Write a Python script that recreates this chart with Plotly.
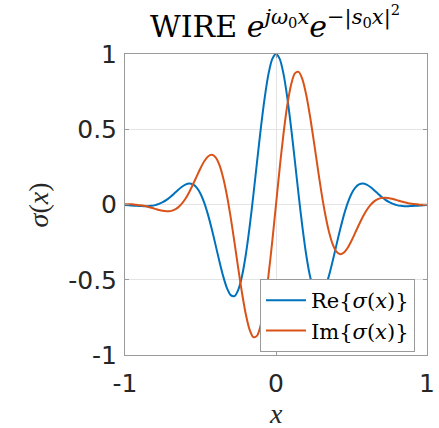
import plotly.graph_objects as go

# sample positions along x
x_vals = [
    -1.0, -0.975, -0.95, -0.925, -0.9, -0.875, -0.85, -0.825, -0.8, -0.775,
    -0.75, -0.725, -0.7, -0.675, -0.65, -0.625, -0.6, -0.575, -0.55, -0.525,
    -0.5, -0.475, -0.45, -0.425, -0.4, -0.375, -0.35, -0.325, -0.3, -0.275,
    -0.25, -0.225, -0.2, -0.175, -0.15, -0.125, -0.1, -0.075, -0.05, -0.025,
    0.0,
    0.025, 0.05, 0.075, 0.1, 0.125, 0.15, 0.175, 0.2, 0.225, 0.25,
    0.275, 0.3, 0.325, 0.35, 0.375, 0.4, 0.425, 0.45, 0.475, 0.5,
    0.525, 0.55, 0.575, 0.6, 0.625, 0.65, 0.675, 0.7, 0.725, 0.75,
    0.775, 0.8, 0.825, 0.85, 0.875, 0.9, 0.925, 0.95, 0.975, 1.0,
]

# real part of the wavelet
re_vals = [
    -0.003, -0.005, -0.007, -0.009, -0.010, -0.011, -0.011, -0.009, -0.004, 0.004,
    0.016, 0.031, 0.050, 0.072, 0.095, 0.116, 0.132, 0.139, 0.133, 0.112,
    0.071, 0.011, -0.069, -0.165, -0.270, -0.377, -0.476, -0.555, -0.602, -0.609,
    -0.567, -0.475, -0.334, -0.151, 0.062, 0.289, 0.511, 0.709, 0.866, 0.966,
    1.000,
    0.966, 0.866, 0.709, 0.511, 0.289, 0.062, -0.151, -0.334, -0.475, -0.567,
    -0.609, -0.602, -0.555, -0.476, -0.377, -0.270, -0.165, -0.069, 0.011, 0.071,
    0.112, 0.133, 0.139, 0.132, 0.116, 0.095, 0.072, 0.050, 0.031, 0.016,
    0.004, -0.004, -0.009, -0.011, -0.011, -0.010, -0.009, -0.007, -0.005, -0.003,
]

# imaginary part of the wavelet
im_vals = [
    0.002, 0.002, 0.001, -0.002, -0.005, -0.009, -0.015, -0.022, -0.029, -0.036,
    -0.042, -0.045, -0.044, -0.036, -0.021, 0.004, 0.038, 0.082, 0.133, 0.187,
    0.241, 0.287, 0.319, 0.330, 0.313, 0.263, 0.178, 0.060, -0.086, -0.251,
    -0.424, -0.588, -0.729, -0.831, -0.881, -0.871, -0.796, -0.661, -0.473, -0.247,
    0.000,
    0.247, 0.473, 0.661, 0.796, 0.871, 0.881, 0.831, 0.729, 0.588, 0.424,
    0.251, 0.086, -0.060, -0.178, -0.263, -0.313, -0.330, -0.319, -0.287, -0.241,
    -0.187, -0.133, -0.082, -0.038, -0.004, 0.021, 0.036, 0.044, 0.045, 0.042,
    0.036, 0.029, 0.022, 0.015, 0.009, 0.005, 0.002, -0.001, -0.002, -0.002,
]

x_ticks = [-1, 0, 1]
x_tick_text = ["-1", "0", "1"]
y_ticks = [-1, -0.5, 0, 0.5, 1]
y_tick_text = ["-1", "-0.5", "0", "0.5", "1"]

BLUE = "#0072BD"
ORANGE = "#D95319"
SERIF = "Liberation Serif, DejaVu Serif, serif"
WIDE_SERIF = "DejaVu Serif, serif"
SANS = "DejaVu Sans, sans-serif"

fig = go.Figure()
fig.add_trace(go.Scatter(
    x=x_vals, y=re_vals, mode="lines",
    line=dict(color=BLUE, width=2, shape="spline", smoothing=0.8),
    name="Re{<i>σ</i>(<i>x</i>)}",
))
fig.add_trace(go.Scatter(
    x=x_vals, y=im_vals, mode="lines",
    line=dict(color=ORANGE, width=2, shape="spline", smoothing=0.8),
    name="Im{<i>σ</i>(<i>x</i>)}",
))

axis_common = dict(
    showline=True, linecolor="#9a9a9a", linewidth=1, mirror="ticks",
    ticks="inside", ticklen=4, tickcolor="#9a9a9a", tickwidth=1,
    showgrid=True, gridcolor="#e4e4e4", gridwidth=1,
    zeroline=False, automargin=False,
    tickfont=dict(family=SANS, size=25, color="#262626"),
)

fig.update_xaxes(
    range=[-1, 1], tickvals=x_ticks, ticktext=x_tick_text,
    ticklabelstandoff=6, **axis_common,
)
fig.update_yaxes(
    range=[-1, 1], tickvals=y_ticks, ticktext=y_tick_text,
    ticklabelstandoff=2, **axis_common,
)

fig.update_layout(
    width=439, height=428,
    margin=dict(l=125, r=12, t=54, b=73),
    paper_bgcolor="white", plot_bgcolor="white",
    title=dict(
        text="WIRE <i>e</i><sup><i>jω</i><sub>0</sub><i>x</i></sup>"
             "<i>e</i><sup>−|<i>s</i><sub>0</sub><i>x</i>|<sup>2</sup></sup>",
        font=dict(family=WIDE_SERIF, size=30, color="black"),
        x=(275 / 439), xanchor="center",
        y=1 - 26 / 428, yanchor="middle",
    ),
    showlegend=True,
    legend=dict(
        x=0.447, y=0.2525, xanchor="left", yanchor="top",
        bgcolor="white", bordercolor="#9a9a9a", borderwidth=1,
        font=dict(family=WIDE_SERIF, size=21, color="black"),
        itemwidth=40, tracegroupgap=0,
    ),
    annotations=[
        dict(text="<i>σ</i>(<i>x</i>)", textangle=-90,
             xref="paper", yref="paper", x=-0.285, y=0.5,
             xanchor="center", yanchor="middle", showarrow=False,
             font=dict(family=SERIF, size=28, color="#262626")),
        dict(text="<i>x</i>",
             xref="paper", yref="paper", x=0.5, y=-0.252,
             xanchor="center", yanchor="bottom", showarrow=False,
             font=dict(family=SERIF, size=28, color="#262626")),
    ],
)

fig.write_html("out.html")
